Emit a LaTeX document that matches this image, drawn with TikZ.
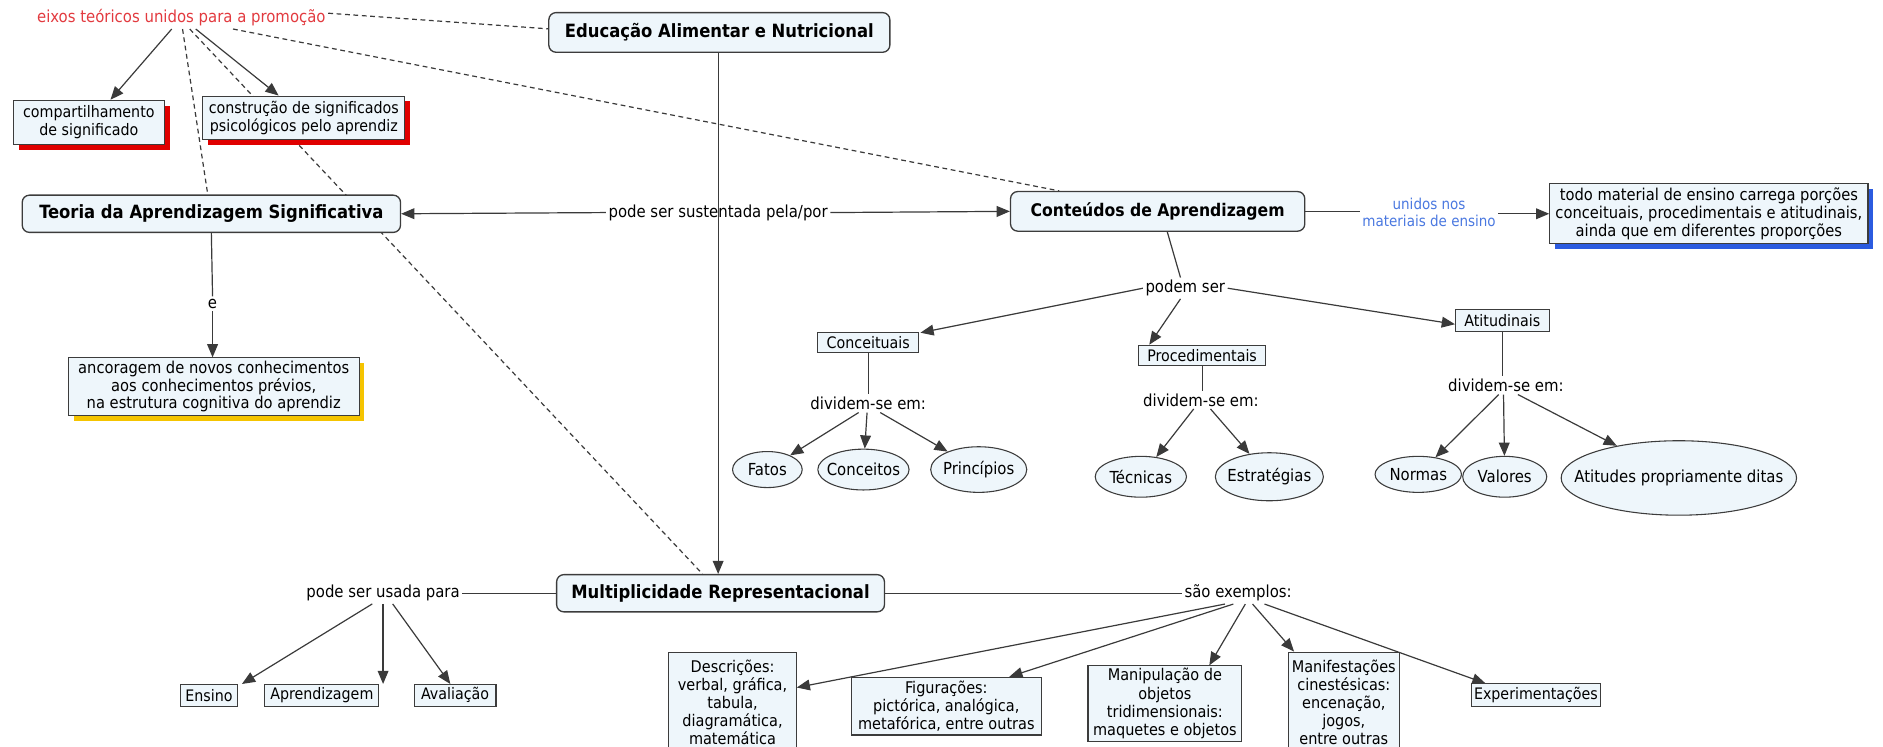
\documentclass[tikz,border=0pt]{standalone}
\usepackage{fontspec}
\setmainfont{DejaVu Sans Condensed}
\usetikzlibrary{arrows.meta,shapes.geometric,shadows,calc}
\definecolor{fillc}{HTML}{EEF6FB}
\definecolor{bordc}{HTML}{3C3C3C}
\definecolor{linec}{HTML}{3A3A3A}
\definecolor{redtext}{HTML}{E23A3F}
\definecolor{bluetext}{HTML}{4A78E0}
\definecolor{redsh}{HTML}{E00000}
\definecolor{goldsh}{HTML}{F5C400}
\definecolor{bluesh}{HTML}{2B5BE0}
\pgfdeclarelayer{bg}
\pgfsetlayers{bg,main}
\newcommand\txtsz{\fontsize{13.8}{15.5}\selectfont}
\newcommand\boxsz{\fontsize{13.2}{15}\selectfont}
\newcommand\bigsz{\bfseries\fontsize{15.2}{17}\selectfont}
\begin{document}
\begin{tikzpicture}[x=1pt,y=-1pt,
  lbl/.style={font=\txtsz, inner sep=2pt, align=center},
  concept/.style={draw=bordc, fill=fillc, rounded corners=6pt, line width=1.1pt, font=\bigsz, inner sep=3pt},
  plainbox/.style={draw=bordc, fill=fillc, line width=0.9pt, font=\boxsz, align=center, inner sep=1.5pt},
  ell/.style={ellipse, draw=bordc, fill=fillc, line width=0.9pt, inner sep=0pt},
  etxt/.style={label={[font=\txtsz, inner sep=0pt]center:#1}},
  shred/.style={drop shadow={fill=redsh, opacity=1, shadow xshift=4.5pt, shadow yshift=-4.5pt}},
  shgold/.style={drop shadow={fill=goldsh, opacity=1, shadow xshift=4.5pt, shadow yshift=-4.5pt}},
  shblue/.style={drop shadow={fill=bluesh, opacity=1, shadow xshift=4.5pt, shadow yshift=-4.5pt}},
  ln/.style={draw=linec, line width=1pt},
  arr/.style={ln, -{Triangle[length=11pt,width=9pt]}},
  dashln/.style={draw=linec, line width=1pt, dash pattern=on 4pt off 3pt}
]
\useasboundingbox (0,0) rectangle (1568,622);

% top
\node[lbl, text=redtext] (eixos) at (151,15) {eixos teóricos unidos para a promoção};
\node[concept, minimum width=284, minimum height=33] (edu) at (599,27) {Educação Alimentar e Nutricional};
\node[plainbox, shred, minimum width=126, minimum height=37] (comp) at (74,102) {compartilhamento\\de significado};
\node[plainbox, shred, minimum width=168, minimum height=36] (constr) at (253,98) {construção de significados\\psicológicos pelo aprendiz};

% middle row
\node[concept, minimum width=315, minimum height=31] (teoria) at (176,178) {Teoria da Aprendizagem Significativa};
\node[lbl] (sust) at (598,177) {pode ser sustentada pela/por};
\node[concept, minimum width=245, minimum height=33, font=\bfseries\fontsize{14.5}{16}\selectfont] (cont) at (964,176) {Conteúdos de Aprendizagem};
\node[lbl, text=bluetext, font=\fontsize{12.5}{14}\selectfont] (unid) at (1190,177) {unidos nos\\materiais de ensino};
\node[plainbox, shblue, minimum width=265, minimum height=50, font=\fontsize{13.6}{15}\selectfont] (todo) at (1423,178) {todo material de ensino carrega porções\\conceituais, procedimentais e atitudinais,\\ainda que em diferentes proporções};
\node[lbl] (e) at (177,253) {e};
\node[plainbox, shgold, minimum width=242, minimum height=48, font=\fontsize{13.6}{14.5}\selectfont] (anc) at (178,322) {ancoragem de novos conhecimentos\\aos conhecimentos prévios,\\na estrutura cognitiva do aprendiz};

% content types
\node[lbl] (podem) at (987,240) {podem ser};
\node[plainbox, minimum width=84, minimum height=17] (conc) at (723,285) {Conceituais};
\node[plainbox, minimum width=106, minimum height=17] (proc) at (1001,296) {Procedimentais};
\node[plainbox, minimum width=78, minimum height=18] (atit) at (1251,267) {Atitudinais};
\node[lbl] (div1) at (723,336) {dividem-se em:};
\node[lbl] (div2) at (1000,333) {dividem-se em:};
\node[lbl] (div3) at (1254,321) {dividem-se em:};
\node[ell, minimum width=58, minimum height=30, etxt=Fatos] (fatos) at (639,391) {};
\node[ell, minimum width=76, minimum height=34, etxt=Conceitos] (concs) at (719,391) {};
\node[ell, minimum width=80, minimum height=38, etxt=Princípios] (princ) at (815,391) {};
\node[ell, minimum width=76, minimum height=34, etxt=Técnicas] (tec) at (950,397) {};
\node[ell, minimum width=90, minimum height=40, etxt=Estratégias] (estr) at (1057,397) {};
\node[ell, minimum width=72, minimum height=30, etxt=Normas] (norm) at (1181,395) {};
\node[ell, minimum width=70, minimum height=34, etxt=Valores] (val) at (1253,397) {};
\node[ell, minimum width=196, minimum height=62, etxt=Atitudes propriamente ditas] (atitd) at (1398,398) {};

% bottom
\node[concept, minimum width=273, minimum height=31] (multi) at (600,494) {Multiplicidade Representacional};
\node[lbl] (usada) at (319,494) {pode ser usada para};
\node[lbl] (exem) at (1031,494) {são exemplos:};
\node[plainbox, minimum width=48, minimum height=18] (ensino) at (174,579) {Ensino};
\node[plainbox, minimum width=95, minimum height=18] (aprend) at (268,579) {Aprendizagem};
\node[plainbox, minimum width=68, minimum height=18] (aval) at (379,579) {Avaliação};
\node[plainbox, minimum width=106, minimum height=83, font=\fontsize{13.4}{15}\selectfont] (descr) at (610,584.5) {Descrições:\\verbal, gráfica,\\tabula,\\diagramática,\\matemática};
\node[plainbox, minimum width=158, minimum height=48, font=\fontsize{13.4}{15.3}\selectfont] (figur) at (788,588) {Figurações:\\pictórica, analógica,\\metafórica, entre outras};
\node[plainbox, minimum width=128, minimum height=63, font=\fontsize{13.4}{15.3}\selectfont] (manip) at (970,586) {Manipulação de\\objetos\\tridimensionais:\\maquetes e objetos};
\node[plainbox, minimum width=92, minimum height=83, font=\fontsize{13.4}{15}\selectfont] (manif) at (1119,584.5) {Manifestações\\cinestésicas:\\encenação,\\jogos,\\entre outras};
\node[plainbox, minimum width=108, minimum height=19] (exper) at (1279,579) {Experimentações};

\begin{pgfonlayer}{bg}
% dashed links from eixos
\draw[dashln] ([yshift=4pt]eixos.east) -- ([yshift=3pt]edu.west);
\draw[dashln] ([xshift=43pt]eixos.south) -- ([xshift=-82pt]cont.north);
\draw[dashln] ([xshift=1pt]eixos.south) -- ([xshift=-3pt]teoria.north);
\draw[dashln] ([xshift=7pt]eixos.south) -- ([xshift=-15pt]multi.north);
% solid arrows from eixos
\draw[arr] ([xshift=-8pt]eixos.south) -- ([xshift=18pt]comp.north);
\draw[arr] ([xshift=12pt]eixos.south) -- ([xshift=-21pt]constr.north);
% educacao
\draw[arr] ([xshift=-1pt]edu.south) -- ([xshift=-2pt]multi.north);
% sustentada
\draw[arr] (sust.west) -- (teoria.east);
\draw[arr] (sust.east) -- (cont.west);
\draw[ln] (cont.east) -- (cont.east -| unid.west);
\draw[arr] (unid.east |- todo.west) -- (todo.west);
% teoria - e - ancoragem
\draw[ln] (teoria.south) -- (e.north);
\draw[arr] (e.south) -- (e.south |- anc.north);
% podem ser
\draw[ln] ([xshift=8pt]cont.south) -- ([xshift=-4pt]podem.north);
\draw[arr] (podem.west) -- ([xshift=1pt,yshift=-1pt]conc.north east);
\draw[arr] ([xshift=-4pt]podem.south) -- ([xshift=-44pt]proc.north);
\draw[arr] (podem.east) -- ([yshift=-3pt]atit.west);
% dividem
\draw[ln] (conc.south) -- (conc.south |- div1.north);
\draw[ln] (proc.south) -- (proc.south |- div2.north);
\draw[ln] (atit.south) -- (atit.south |- div3.north);
\draw[arr] ([xshift=-8pt]div1.south) -- (fatos);
\draw[arr] ([xshift=-1pt]div1.south) -- (concs);
\draw[arr] ([xshift=10pt]div1.south) -- (princ);
\draw[arr] ([xshift=-6pt]div2.south) -- (tec);
\draw[arr] ([xshift=8pt]div2.south) -- (estr);
\draw[arr] ([xshift=-6pt]div3.south) -- (norm);
\draw[arr] ([xshift=-2pt]div3.south) -- (val);
\draw[arr] ([xshift=10pt]div3.south) -- (atitd);
% multiplicidade
\draw[ln] (multi.west) -- (usada.east);
\draw[ln] (multi.east) -- (exem.west);
\draw[arr] ([xshift=-9pt]usada.south) -- ([xshift=3pt]ensino.north east);
\draw[arr] (usada.south) -- (usada.south |- aprend.north);
\draw[arr] ([xshift=8pt]usada.south) -- ([xshift=-4pt]aval.north);
\draw[arr] ([xshift=-11pt]exem.south) -- ([yshift=12pt]descr.east);
\draw[arr] ([xshift=-4pt]exem.south) -- ([xshift=-27pt]figur.north east);
\draw[arr] ([xshift=6pt]exem.south) -- ([xshift=37pt]manip.north);
\draw[arr] ([xshift=12pt]exem.south) -- ([xshift=5pt]manif.north west);
\draw[arr] ([xshift=22pt]exem.south) -- ([xshift=-42pt]exper.north);
\end{pgfonlayer}
\end{tikzpicture}
\end{document}
